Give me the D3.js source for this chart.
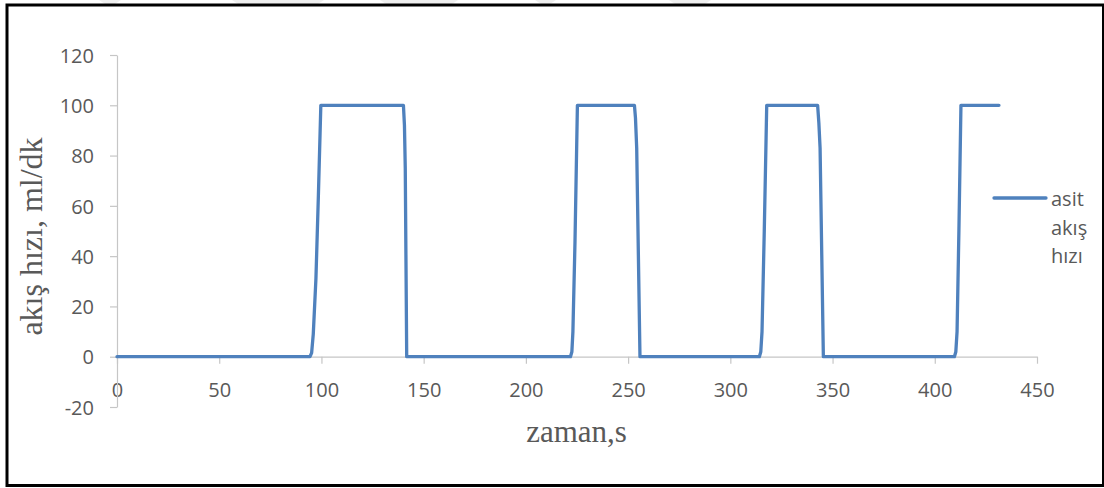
<!DOCTYPE html>
<html>
<head>
<meta charset="utf-8">
<script src="https://cdn.jsdelivr.net/npm/d3@7/dist/d3.min.js"></script>
<style>
  html, body { margin: 0; padding: 0; background: #ffffff; }
  svg { display: block; }
</style>
</head>
<body>
<svg id="chart" width="1104" height="488"></svg>
<script>
// Acid flow rate over time (s) — breakpoints of the pump on/off cycles
const timeSec = [
  0, 94.4, 95.2, 96.0, 97.3, 98.5, 99.7,
  140.1, 140.6, 141.0, 141.7,
  221.8, 222.5, 223.0, 224.0, 225.2,
  253.1, 253.6, 254.2, 255.8,
  314.2, 314.9, 315.5, 316.6, 317.8,
  342.7, 343.3, 343.9, 345.5,
  409.6, 410.3, 410.9, 411.8, 412.8,
  431.4
];
const flowRate = [
  0, 0, 1.5, 9, 31, 64, 100,
  100, 92, 75, 0,
  0, 2, 10, 45, 100,
  100, 95, 83, 0,
  0, 2, 10, 50, 100,
  100, 93, 83, 0,
  0, 2, 10, 50, 100,
  100
];

const xTicks = [0, 50, 100, 150, 200, 250, 300, 350, 400, 450];
const yTicks = [-20, 0, 20, 40, 60, 80, 100, 120];

const seriesName = ["asit", "akış", "hızı"];
const xTitle = "zaman,s";
const yTitle = "akış hızı, ml/dk";

const svg = d3.select("#chart");

// faint shapes along the top edge of the page
const topShapes = [[99, 121], [232, 324], [380, 458], [535, 556], [669, 711]];
svg.selectAll("path.topshape")
  .data(topShapes)
  .join("path")
  .attr("class", "topshape")
  .attr("d", d => `M${d[0]},0 L${d[1]},0 L${d[1] - 6},4 L${d[0] + 6},4 Z`)
  .attr("fill", "#efefef");

// outer frame
svg.append("rect")
  .attr("x", 7).attr("y", 5)
  .attr("width", 1096.5).attr("height", 480.5)
  .attr("fill", "none")
  .attr("stroke", "#000")
  .attr("stroke-width", 3);

const x = d3.scaleLinear().domain([0, 450]).range([117, 1037]);
const y = d3.scaleLinear().domain([-20, 120]).range([407, 55]);

const axisColor = "#c6c6c6";
const textColor = "#595959";
const tickFont = "'Open Sans', 'Noto Sans', sans-serif";
const plainNumber = d => String(d);

// x axis along value 0
const gx = svg.append("g")
  .attr("transform", `translate(0,${y(0)})`)
  .call(d3.axisBottom(x).tickValues(xTicks).tickFormat(plainNumber)
    .tickSize(7).tickSizeOuter(0).tickPadding(19));
gx.select(".domain").attr("stroke", axisColor).attr("stroke-width", 1.2);
gx.selectAll(".tick line").attr("stroke", axisColor).attr("stroke-width", 1.2);
gx.selectAll(".tick text")
  .attr("fill", textColor)
  .style("font-family", tickFont)
  .style("font-size", "20px");

// y axis
const gy = svg.append("g")
  .attr("transform", `translate(${x(0)},0)`)
  .call(d3.axisLeft(y).tickValues(yTicks).tickFormat(plainNumber)
    .tickSize(7).tickSizeOuter(0).tickPadding(16));
gy.select(".domain").attr("stroke", axisColor).attr("stroke-width", 1.2);
gy.selectAll(".tick line").attr("stroke", axisColor).attr("stroke-width", 1.2);
gy.selectAll(".tick text")
  .attr("fill", textColor)
  .attr("dy", "0.36em")
  .style("font-family", tickFont)
  .style("font-size", "20px");

// flow-rate line
const points = timeSec.map((t, i) => [t, flowRate[i]]);
const line = d3.line().x(d => x(d[0])).y(d => y(d[1]));
const lineColor = "#4f81bd";
svg.append("path")
  .datum(points)
  .attr("d", line)
  .attr("fill", "none")
  .attr("stroke", lineColor)
  .attr("stroke-width", 3.3)
  .attr("stroke-linejoin", "round")
  .attr("stroke-linecap", "round");

// axis titles
svg.append("text")
  .attr("x", 576.5).attr("y", 441.5)
  .attr("text-anchor", "middle")
  .attr("fill", textColor)
  .style("font-family", "'Liberation Serif', 'DejaVu Serif', serif")
  .style("font-size", "31px")
  .text(xTitle);

svg.append("text")
  .attr("transform", "translate(42,236.5) rotate(-90)")
  .attr("text-anchor", "middle")
  .attr("fill", textColor)
  .style("font-family", "'Liberation Serif', 'DejaVu Serif', serif")
  .style("font-size", "32px")
  .text(yTitle);

// legend
const legend = svg.append("g");
legend.append("line")
  .attr("x1", 994).attr("x2", 1046)
  .attr("y1", 198).attr("y2", 198)
  .attr("stroke", lineColor)
  .attr("stroke-width", 3.3)
  .attr("stroke-linecap", "round");
legend.selectAll("text")
  .data(seriesName)
  .join("text")
  .attr("x", 1051)
  .attr("y", (d, i) => 206 + i * 28.5)
  .attr("fill", textColor)
  .style("font-family", tickFont)
  .style("font-size", "20px")
  .text(d => d);
</script>
</body>
</html>
